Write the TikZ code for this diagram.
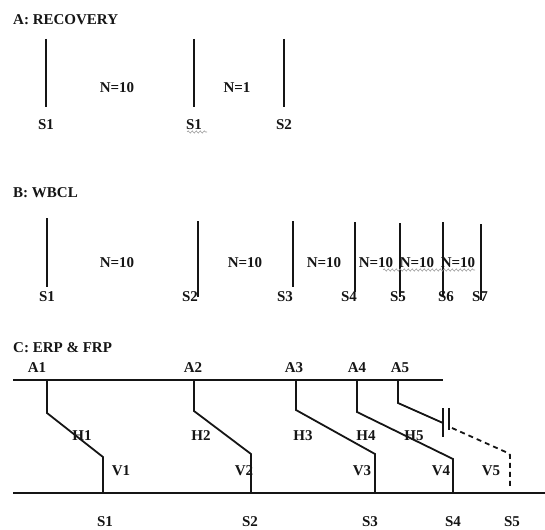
\documentclass[tikz,border=0pt]{standalone}
\usepackage{fontspec}
\setmainfont{Liberation Serif}
\usetikzlibrary{decorations.pathmorphing}
\definecolor{ink}{HTML}{151515}
\definecolor{squig}{HTML}{9A9A9A}
\begin{document}
\begin{tikzpicture}[x=1pt,y=-1pt,
  lbl/.style={inner sep=0pt, font=\fontsize{15}{17}\selectfont\bfseries, text=ink},
  ttl/.style={lbl, anchor=west},
  wire/.style={draw=ink, line width=1.8pt},
  gapwire/.style={wire, dashed, dash pattern=on 5pt off 4pt},
  spell/.style={draw=squig, line width=0.6pt, decorate,
    decoration={snake, amplitude=1.1pt, segment length=4pt}}
]
\useasboundingbox (0,0) rectangle (545,529);

% ---------- A: recovery ----------
\node[ttl] (tA) at (13,20) {A: RECOVERY};
\foreach \n/\x in {1/46,2/194,3/284}{
  \coordinate (ra\n t) at (\x,39);
  \coordinate (ra\n b) at (\x,107);
  \draw[wire] (ra\n t) -- (ra\n b);
}
\node[lbl] (ran1) at (117,88) {N=10};
\node[lbl] (ran2) at (237,88) {N=1};
\node[lbl] (ras1) at (46,125) {S1};
\node[lbl] (ras2) at (194,125) {S1};
\node[lbl] (ras3) at (284,125) {S2};
\coordinate (rsq1) at (187,132);
\coordinate (rsq2) at (207,132);
\draw[spell] (rsq1) -- (rsq2);

% ---------- B: WBCL ----------
\node[ttl] (tB) at (13,193) {B: WBCL};
\foreach \n/\x/\ya/\yb in {1/47/218/287, 2/198/221/297, 3/293/221/287,
                           4/355/222/292, 5/400/223/297, 6/443/222/297,
                           7/481/224/300}{
  \coordinate (wb\n t) at (\x,\ya);
  \coordinate (wb\n b) at (\x,\yb);
  \draw[wire] (wb\n t) -- (wb\n b);
}
\foreach \n/\x in {1/117,2/245,3/324,4/376,5/417,6/458}{
  \node[lbl] (wbn\n) at (\x,263) {N=10};
}
\foreach \n/\x in {1/47,2/190,3/285,4/349,5/398,6/446,7/480}{
  \node[lbl] (wbs\n) at (\x,297) {S\n};
}
\coordinate (wsq1) at (383,270);
\coordinate (wsq2) at (475,270);
\draw[spell] (wsq1) -- (wsq2);

% ---------- C: ERP & FRP ----------
\node[ttl] (tC) at (13,348) {C: ERP \& FRP};
\coordinate (topL) at (13,380);
\coordinate (topR) at (443,380);
\coordinate (botL) at (13,493);
\coordinate (botR) at (545,493);
\draw[wire] (topL) -- (topR);
\draw[wire] (botL) -- (botR);

\foreach \n/\xa/\ya/\xb/\yb/\lx in {1/47/413/103/457/37, 2/194/411/251/454/193,
                                   3/296/410/375/454/294, 4/357/412/453/459/357}{
  \coordinate (e\n top) at (\xa,380);
  \coordinate (e\n k1) at (\xa,\ya);
  \coordinate (e\n k2) at (\xb,\yb);
  \coordinate (e\n bot) at (\xb,493);
  \draw[wire] (e\n top) -- (e\n k1) -- (e\n k2) -- (e\n bot);
  \node[lbl] (ea\n) at (\lx,368) {A\n};
}

% A5: broken link drawn as a gap symbol and a dashed continuation
\coordinate (e5top) at (398,380);
\coordinate (e5k1) at (398,403);
\coordinate (e5k2) at (443,423);
\draw[wire] (e5top) -- (e5k1) -- (e5k2);
\coordinate (bar1t) at (443,408);
\coordinate (bar1b) at (443,437);
\coordinate (bar2t) at (449,408);
\coordinate (bar2b) at (449,430);
\draw[wire] (bar1t) -- (bar1b);
\draw[wire] (bar2t) -- (bar2b);
\coordinate (d5a) at (452,428);
\coordinate (d5b) at (508,453);
\coordinate (d5c) at (510,455);
\coordinate (d5d) at (510,487);
\draw[gapwire] (d5a) -- (d5b) -- (d5c) -- (d5d);
\node[lbl] (ea5) at (400,368) {A5};

\foreach \n/\x in {1/82,2/201,3/303,4/366,5/414}{
  \node[lbl] (eh\n) at (\x,436) {H\n};
}
\foreach \n/\x in {1/121,2/244,3/362,4/441,5/491}{
  \node[lbl] (ev\n) at (\x,471) {V\n};
}
\foreach \n/\x in {1/105,2/250,3/370,4/453,5/512}{
  \node[lbl] (es\n) at (\x,522) {S\n};
}
\end{tikzpicture}
\end{document}
